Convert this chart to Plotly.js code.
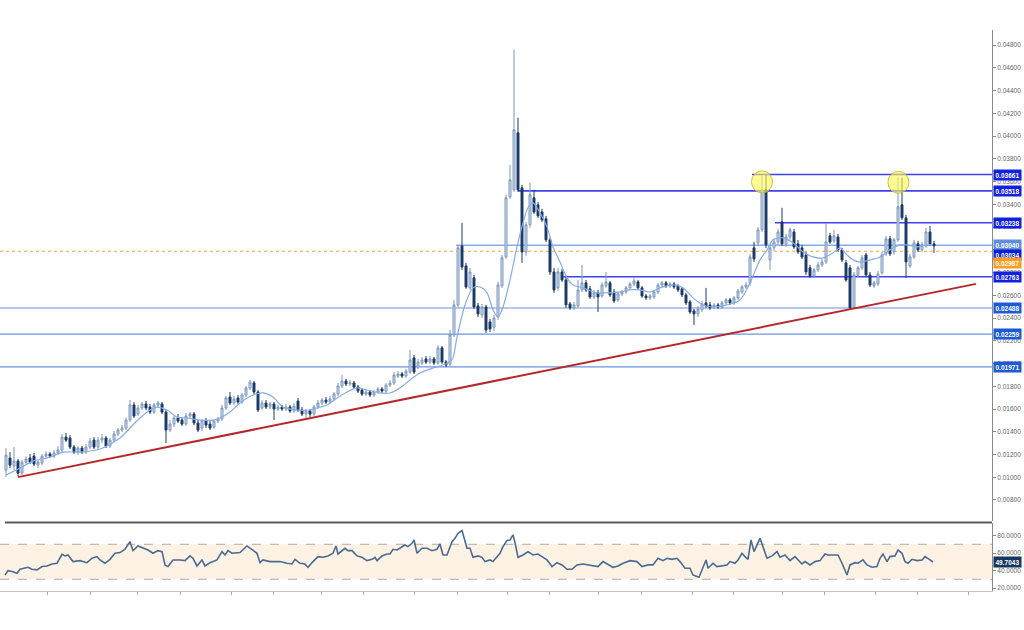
<!DOCTYPE html>
<html><head><meta charset="utf-8">
<script src="https://cdn.plot.ly/plotly-3.0.1.min.js"></script>
<style>html,body{margin:0;padding:0;background:#fff}#chart{width:1024px;height:630px}</style>
</head><body><div id="chart"></div>
<script>
const open = [0.01063,0.01169,0.01098,0.01142,0.01037,0.01133,0.01169,0.01186,0.01107,0.01125,
0.01186,0.01204,0.01186,0.01213,0.01239,0.01353,0.01345,0.01265,0.01221,0.01257,
0.01221,0.01265,0.01327,0.01265,0.01327,0.01345,0.01274,0.01327,0.01380,0.01415,
0.01433,0.01503,0.01635,0.01556,0.01609,0.01644,0.01617,0.01573,0.01635,0.01644,
0.01573,0.01415,0.01468,0.01521,0.01503,0.01468,0.01538,0.01556,0.01477,0.01433,
0.01494,0.01468,0.01441,0.01494,0.01512,0.01609,0.01705,0.01653,0.01697,0.01661,
0.01723,0.01785,0.01829,0.01749,0.01609,0.01653,0.01617,0.01644,0.01600,0.01617,
0.01600,0.01617,0.01582,0.01670,0.01591,0.01556,0.01582,0.01556,0.01617,0.01653,
0.01679,0.01661,0.01688,0.01732,0.01802,0.01846,0.01820,0.01829,0.01793,0.01767,
0.01732,0.01749,0.01723,0.01749,0.01776,0.01758,0.01811,0.01829,0.01890,0.01908,
0.01890,0.01925,0.02049,0.01969,0.02005,0.02040,0.02013,0.02040,0.02005,0.02137,
0.02013,0.01996,0.02251,0.02515,0.03034,0.02858,0.02665,0.02753,0.02506,0.02427,
0.02497,0.02365,0.02321,0.02409,0.02682,0.02937,0.03465,0.03527,0.04029,0.03545,
0.02981,0.03219,0.03457,0.03395,0.03333,0.03272,0.03087,0.02805,0.02665,0.02805,
0.02735,0.02524,0.02489,0.02506,0.02647,0.02709,0.02656,0.02585,0.02621,0.02594,
0.02682,0.02709,0.02629,0.02559,0.02612,0.02629,0.02665,0.02700,0.02717,0.02665,
0.02594,0.02577,0.02585,0.02629,0.02691,0.02709,0.02682,0.02700,0.02682,0.02656,
0.02603,0.02541,0.02462,0.02436,0.02471,0.02533,0.02515,0.02497,0.02515,0.02497,
0.02533,0.02559,0.02533,0.02577,0.02629,0.02673,0.02709,0.03017,0.03061,0.03175,
0.03527,0.02911,0.03017,0.03069,0.03245,0.03052,0.03113,0.03157,0.03052,0.03017,
0.02955,0.02841,0.02770,0.02823,0.02867,0.02893,0.03122,0.03078,0.03113,0.02999,
0.02885,0.02841,0.02497,0.02779,0.02841,0.02955,0.02779,0.02682,0.02700,0.02797,
0.02964,0.03096,0.02981,0.03087,0.03395,0.03281,0.02858,0.02937,0.03052,0.02999,
0.03034,0.03157,0.03052];
const high = [0.01257,0.01221,0.01265,0.01160,0.01151,0.01186,0.01204,0.01213,0.01151,0.01204,
0.01230,0.01221,0.01239,0.01274,0.01380,0.01389,0.01371,0.01283,0.01274,0.01274,
0.01292,0.01345,0.01353,0.01353,0.01380,0.01362,0.01345,0.01406,0.01433,0.01459,
0.01521,0.01679,0.01661,0.01635,0.01661,0.01670,0.01644,0.01653,0.01670,0.01661,
0.01591,0.01503,0.01538,0.01556,0.01529,0.01565,0.01573,0.01573,0.01503,0.01512,
0.01521,0.01494,0.01512,0.01529,0.01635,0.01714,0.01749,0.01714,0.01723,0.01741,
0.01802,0.01855,0.01846,0.01767,0.01679,0.01679,0.01661,0.01661,0.01635,0.01635,
0.01644,0.01635,0.01653,0.01697,0.01617,0.01600,0.01600,0.01635,0.01679,0.01697,
0.01705,0.01714,0.01749,0.01829,0.01899,0.01864,0.01855,0.01846,0.01811,0.01785,
0.01776,0.01767,0.01767,0.01793,0.01793,0.01829,0.01855,0.01925,0.01934,0.01925,
0.01952,0.02119,0.02075,0.02040,0.02057,0.02066,0.02066,0.02057,0.02163,0.02154,
0.02031,0.02295,0.02559,0.03043,0.03237,0.02885,0.02841,0.02779,0.02533,0.02524,
0.02515,0.02392,0.02427,0.02717,0.02955,0.03483,0.03747,0.04759,0.04161,0.03571,
0.03245,0.03589,0.03527,0.03421,0.03360,0.03298,0.03105,0.02841,0.02841,0.02832,
0.02761,0.02541,0.02541,0.02735,0.02867,0.02735,0.02682,0.02647,0.02647,0.02717,
0.02805,0.02726,0.02656,0.02629,0.02647,0.02682,0.02717,0.02753,0.02735,0.02682,
0.02612,0.02612,0.02647,0.02709,0.02726,0.02726,0.02717,0.02717,0.02700,0.02673,
0.02621,0.02559,0.02480,0.02506,0.02550,0.02665,0.02541,0.02533,0.02533,0.02550,
0.02577,0.02577,0.02594,0.02656,0.02691,0.02717,0.02964,0.03069,0.03201,0.03659,
0.03659,0.03043,0.03096,0.03184,0.03369,0.03140,0.03193,0.03184,0.03087,0.03043,
0.02981,0.02867,0.02841,0.02893,0.02920,0.03237,0.03149,0.03175,0.03140,0.03017,
0.02911,0.02867,0.02805,0.02858,0.02955,0.02973,0.02805,0.02726,0.02814,0.02981,
0.03122,0.03122,0.03105,0.03633,0.03633,0.03307,0.02964,0.03087,0.03078,0.03069,
0.03193,0.03210,0.03078];
const low = [0.01001,0.01081,0.01063,0.01010,0.01019,0.01116,0.01116,0.01098,0.01081,0.01107,
0.01169,0.01169,0.01169,0.01195,0.01221,0.01309,0.01248,0.01204,0.01195,0.01204,
0.01204,0.01248,0.01248,0.01248,0.01301,0.01257,0.01257,0.01309,0.01362,0.01397,
0.01415,0.01485,0.01521,0.01538,0.01591,0.01591,0.01556,0.01556,0.01609,0.01556,
0.01301,0.01397,0.01441,0.01477,0.01450,0.01450,0.01521,0.01459,0.01397,0.01406,
0.01433,0.01415,0.01424,0.01477,0.01494,0.01591,0.01635,0.01635,0.01644,0.01644,
0.01705,0.01767,0.01732,0.01573,0.01591,0.01600,0.01600,0.01503,0.01582,0.01582,
0.01582,0.01565,0.01565,0.01573,0.01538,0.01521,0.01529,0.01538,0.01600,0.01635,
0.01644,0.01644,0.01670,0.01714,0.01785,0.01802,0.01802,0.01776,0.01741,0.01714,
0.01714,0.01705,0.01705,0.01732,0.01741,0.01741,0.01793,0.01811,0.01873,0.01873,
0.01873,0.01908,0.01908,0.01952,0.01987,0.01996,0.01996,0.01987,0.01987,0.01996,
0.01969,0.01978,0.02233,0.02497,0.02823,0.02656,0.02647,0.02480,0.02409,0.02401,
0.02269,0.02277,0.02286,0.02383,0.02665,0.02920,0.03448,0.03509,0.03509,0.02885,
0.02946,0.03193,0.03316,0.03281,0.03245,0.03069,0.02779,0.02621,0.02638,0.02717,
0.02489,0.02471,0.02471,0.02489,0.02629,0.02629,0.02568,0.02568,0.02453,0.02577,
0.02665,0.02585,0.02533,0.02541,0.02594,0.02612,0.02647,0.02682,0.02647,0.02577,
0.02559,0.02559,0.02568,0.02612,0.02673,0.02665,0.02665,0.02656,0.02629,0.02585,
0.02515,0.02436,0.02339,0.02409,0.02453,0.02489,0.02471,0.02480,0.02480,0.02480,
0.02515,0.02515,0.02515,0.02559,0.02612,0.02656,0.02682,0.02893,0.03034,0.03157,
0.03017,0.02823,0.02990,0.03043,0.03034,0.03025,0.03087,0.03008,0.02964,0.02920,
0.02779,0.02753,0.02753,0.02805,0.02849,0.02876,0.03052,0.03061,0.02981,0.02893,
0.02717,0.02480,0.02480,0.02761,0.02823,0.02761,0.02673,0.02665,0.02682,0.02779,
0.02946,0.02946,0.02955,0.03069,0.03263,0.02753,0.02841,0.02920,0.02981,0.02981,
0.03017,0.03034,0.02973];
const close = [0.01195,0.01107,0.01142,0.01037,0.01133,0.01160,0.01133,0.01116,0.01133,0.01186,
0.01204,0.01186,0.01213,0.01239,0.01353,0.01327,0.01265,0.01221,0.01257,0.01221,
0.01265,0.01318,0.01265,0.01327,0.01345,0.01274,0.01327,0.01380,0.01415,0.01433,
0.01503,0.01635,0.01538,0.01609,0.01644,0.01609,0.01573,0.01635,0.01653,0.01573,
0.01415,0.01468,0.01521,0.01494,0.01468,0.01538,0.01556,0.01477,0.01415,0.01494,
0.01459,0.01433,0.01494,0.01512,0.01609,0.01697,0.01653,0.01688,0.01661,0.01723,
0.01785,0.01837,0.01749,0.01591,0.01653,0.01617,0.01644,0.01600,0.01617,0.01600,
0.01617,0.01582,0.01626,0.01591,0.01556,0.01582,0.01556,0.01617,0.01653,0.01679,
0.01661,0.01688,0.01732,0.01802,0.01846,0.01820,0.01829,0.01793,0.01758,0.01732,
0.01749,0.01723,0.01749,0.01776,0.01758,0.01811,0.01829,0.01899,0.01908,0.01890,
0.01934,0.02031,0.01925,0.02013,0.02031,0.02013,0.02040,0.02005,0.02137,0.02013,
0.01987,0.02251,0.02515,0.03017,0.02849,0.02673,0.02805,0.02497,0.02436,0.02497,
0.02295,0.02304,0.02401,0.02691,0.02929,0.03457,0.03615,0.04055,0.03527,0.02981,
0.03219,0.03483,0.03333,0.03298,0.03263,0.03087,0.02805,0.02647,0.02805,0.02735,
0.02515,0.02489,0.02515,0.02647,0.02709,0.02647,0.02585,0.02621,0.02585,0.02691,
0.02717,0.02603,0.02550,0.02612,0.02629,0.02665,0.02700,0.02726,0.02665,0.02594,
0.02577,0.02594,0.02629,0.02691,0.02709,0.02682,0.02700,0.02673,0.02647,0.02603,
0.02533,0.02453,0.02436,0.02480,0.02524,0.02506,0.02489,0.02515,0.02497,0.02533,
0.02559,0.02533,0.02577,0.02638,0.02673,0.02691,0.02937,0.02920,0.03175,0.03527,
0.03043,0.03017,0.03069,0.03157,0.03052,0.03113,0.03175,0.03025,0.02981,0.02937,
0.02805,0.02770,0.02823,0.02867,0.02893,0.03069,0.03069,0.03122,0.02999,0.02911,
0.02735,0.02489,0.02779,0.02841,0.02929,0.02779,0.02691,0.02709,0.02788,0.02955,
0.03096,0.02964,0.03087,0.03377,0.03281,0.02893,0.02937,0.03061,0.02999,0.03043,
0.03157,0.03052,0.03034];

const maX = [0,3.5,6.75,11,14.25,18.5,23.5,28.5,31,33.5,36,37.75,40.25,42.75,45.25,48.5,51.75,53.5,56,58.5,61.75,64.25,66.75,69.25,72.75,76,77.75,80.25,82.75,85.25,87.75,90.25,93.5,96,98.5,101,103.5,106.75,109.25,111.5,112.75,114.75,116.75,118.5,120.25,121.75,123,124.25,126,127.75,129.25,130.5,131.75,133.5,135.25,136.75,138.5,140.25,141.75,144.25,147.75,150.25,153.5,156,158.5,161,163.5,166.75,169.25,171.75,174.25,176.75,180.25,183.5,186,188.5,190.25,191.75,194.25,196.75,199.25,201.75,204.25,206.75,208.5,210.25,211.75,213.5,216,218.5,221,223.5,225.25,227.75,230.25,231.75];
const maVal = [0.01019,0.01081,0.01142,0.01177,0.01221,0.01221,0.01248,0.01345,0.01433,0.01521,0.01591,0.01617,0.01591,0.01529,0.01521,0.01503,0.01503,0.01521,0.01573,0.01653,0.01723,0.01741,0.01705,0.01617,0.01591,0.01591,0.01609,0.01635,0.01697,0.01749,0.01785,0.01767,0.01741,0.01741,0.01785,0.01855,0.01917,0.01961,0.01987,0.02031,0.02233,0.02515,0.02665,0.02673,0.02621,0.02471,0.02409,0.02497,0.02735,0.03025,0.03237,0.03369,0.03413,0.03325,0.03201,0.03025,0.02893,0.02753,0.02691,0.02665,0.02621,0.02621,0.02629,0.02647,0.02647,0.02629,0.02665,0.02691,0.02665,0.02577,0.02515,0.02497,0.02515,0.02559,0.02709,0.02911,0.02999,0.03087,0.03105,0.03061,0.02981,0.02937,0.02929,0.02973,0.03017,0.02955,0.02911,0.02893,0.02911,0.02937,0.02999,0.03043,0.03043,0.03025,0.03043,0.03043];

const rsiX = [-0.25,0.5,1.75,2.75,3.5,4.75,5.5,6.5,7.75,9,10.25,11.5,12.75,14,14.75,15.5,16.75,18.5,20.25,21.5,22.75,23.5,24.75,26,27.25,28.5,29.75,31,31.75,33,34.25,35.5,36.75,38,39,39.75,40.5,41.75,43.5,44.75,46,46.75,47.75,49,49.75,51,52.75,54,54.75,55.5,56.5,58.5,60.25,61.75,62.75,63.5,64.25,66,68.5,70.25,71.5,72.25,73.5,74.75,75.5,76.75,78,79.25,80.5,81.75,82.5,83,84,84.75,85.5,86.5,87.75,89,90.25,91.5,92.25,92.75,94,95.25,96,96.75,97.75,99,99.75,100.5,101.5,102,102.75,104,105.25,106.5,107.75,108.5,109.25,110.25,111.5,112.25,113,114,115.25,116,116.75,118,119,119.75,121,121.75,123,123.5,124.25,125.25,126,126.75,127.25,128,129.25,130.5,131.75,133,134,135.25,136.5,137.75,139,140.25,141.5,142.75,144.25,146,148,149.25,150.5,151.75,153,154.25,156,157.75,159,160.5,161.75,163,164.25,165.25,166.5,167.75,168.5,169.75,171,171.75,173.25,174,175,175.5,176.75,177.75,179,180.25,181,182.25,183,184,184.75,185.5,186.25,187,188.5,190.25,191.5,192.75,193.5,194.75,196,197.25,199,199.75,201,202.25,203.5,204.75,205.5,206.75,208,209,210.25,211,212.25,213,214.25,215.25,216.5,217.75,218.5,219.25,220.25,221,222.25,223,224,224.75,225.5,226.5,227.75,229,229.75,231,231.75];
const rsiVal = [34.9,39.9,38.7,36.8,41.4,42.6,43.7,41.4,40.7,44.5,45.2,47.5,48.3,58.6,56.7,57.8,50.2,51.3,49.0,54.0,55.9,52.1,48.3,52.8,59.7,60.5,64.3,73.0,62.7,68.1,65.4,63.5,59.7,62.7,61.6,46.4,44.5,52.1,52.1,51.3,56.7,54.0,45.2,52.1,45.2,49.0,52.1,61.6,57.8,62.7,59.7,60.5,68.1,62.7,59.7,49.0,52.1,50.2,50.2,48.3,47.5,52.8,48.3,47.5,43.7,50.2,55.9,55.1,56.7,59.7,68.1,58.9,62.7,65.4,62.7,62.7,56.7,55.1,51.3,52.8,55.1,51.3,56.7,58.9,58.9,64.3,63.5,66.6,69.2,67.3,71.1,74.9,59.7,65.4,65.4,62.7,64.3,70.4,57.8,57.8,73.0,76.8,82.6,85.6,65.4,65.4,55.1,56.7,55.1,50.2,52.1,50.2,57.8,59.7,67.3,74.2,74.9,80.7,71.9,55.1,57.8,61.6,57.8,58.9,55.9,52.1,44.5,49.0,46.4,41.4,41.4,46.4,47.5,46.4,44.5,50.2,47.1,43.7,45.2,48.3,51.3,50.2,44.5,46.4,46.4,54.0,51.3,54.0,52.8,54.0,50.2,42.6,42.6,34.9,32.3,40.6,52.1,42.6,48.3,44.5,45.2,46.4,50.2,48.3,52.1,59.7,55.9,52.8,74.9,61.6,76.8,54.0,56.7,61.6,55.1,57.8,51.3,55.9,47.5,50.2,46.4,50.2,51.3,58.9,57.8,57.8,57.8,48.3,34.9,46.4,49.0,48.3,52.1,46.4,43.7,44.5,54.0,58.9,50.2,55.9,56.7,63.5,59.7,50.2,48.3,52.8,51.3,52.1,55.9,52.1,49.7043];
const rsiLast = 49.7043;

const levelPrice = [0.03661, 0.03518, 0.03238, 0.03040, 0.02763, 0.02488, 0.02259, 0.01971];
const levelStart = [186.5, 128, 192.25, 112.5, 139.25, -1.5, -1.5, -1.5];
const lastPrice = 0.03034;
const bidPrice = 0.02987;
const trendX = [3, 242.5];
const trendY = [0.01001, 0.02700];
const markX = [189, 223.1];
const markY = [0.03597, 0.03593];
const xTicks = [10.25,21,32.75,43.5,56.25,66.75,78.75,89.25,102,112.75,125.25,135.75,148,158.75,171.5,181.75,194,204.5,217.25,227.75,240.5];

// styles
const levelLine = ['#4141f2','#4141f2','#4141f2','#8eaaee','#4141f2','#6d93df','#6d93df','#6d93df'];
const levelBox  = ['#1020e4','#1020e4','#1020e4','#5f8fdc','#1020e4','#1d5bd6','#1d5bd6','#1d5bd6'];
const levelW    = [1.6,1.6,1.6,1.6,1.6,1.2,1.2,1.2];

const idx = close.map((_, i) => i);
const XR = [-1.5, 246.5];
const FONT = 'Liberation Sans, Arial, sans-serif';

const traces = [
  {type:'candlestick', x: idx, open, high, low, close, xaxis:'x', yaxis:'y',
   increasing:{line:{color:'#7c97be', width:1}, fillcolor:'#d3dfec'},
   decreasing:{line:{color:'#1b3a66', width:1}, fillcolor:'#1b3a66'},
   whiskerwidth:0, hoverinfo:'skip'},
  {type:'scatter', mode:'lines', x: maX, y: maVal, xaxis:'x', yaxis:'y',
   line:{color:'#86acea', width:1.2, shape:'spline', smoothing:0.8}, hoverinfo:'skip'},
  {type:'scatter', mode:'lines', x: trendX, y: trendY, xaxis:'x', yaxis:'y',
   line:{color:'#b5282c', width:2}, hoverinfo:'skip'},
  {type:'scatter', mode:'lines', x: rsiX, y: rsiVal, xaxis:'x2', yaxis:'y2',
   line:{color:'#4a6b93', width:1.6}, hoverinfo:'skip'}
];

const shapes = [];
// RSI band and levels
shapes.push({type:'rect', xref:'paper', yref:'y2', x0:0, x1:1, y0:30, y1:70, fillcolor:'#fdf2e3', line:{width:0}, layer:'below'});
shapes.push({type:'line', xref:'paper', yref:'y2', x0:0, x1:1, y0:70, y1:70, line:{color:'#b0aaa4', width:1, dash:'dash'}, layer:'below'});
shapes.push({type:'line', xref:'paper', yref:'y2', x0:0, x1:1, y0:30, y1:30, line:{color:'#b0aaa4', width:1, dash:'dash'}, layer:'below'});
// separator between panels
shapes.push({type:'line', xref:'paper', yref:'paper', x0:0.005, x1:1, y0:0.1159, y1:0.1159, line:{color:'#5a5a5a', width:2}});
// bid line
shapes.push({type:'line', xref:'x', yref:'y', x0:XR[0], x1:XR[1], y0:bidPrice, y1:bidPrice, line:{color:'#f5a43a', width:1, dash:'dot'}, layer:'below'});
levelPrice.forEach((p, k) => {
  shapes.push({type:'line', xref:'x', yref:'y', x0:levelStart[k], x1:XR[1], y0:p, y1:p,
    line:{color:levelLine[k], width:levelW[k]}, layer:'below'});
});
markX.forEach((mx, k) => {
  shapes.push({type:'circle', xref:'x', yref:'y', xsizemode:'pixel', ysizemode:'pixel',
    xanchor:mx, yanchor:markY[k], x0:-10.5, x1:10.5, y0:-11, y1:11,
    fillcolor:'rgba(255,250,80,0.6)', line:{color:'rgba(190,180,40,0.8)', width:1}, layer:'above'});
});

const annotations = [];
function tag(y, yref, text, bg, yshift) {
  annotations.push({xref:'paper', x:1, xanchor:'left', xshift:1, yref, y, yanchor:'middle', yshift: yshift||0,
    text:'<b>'+text+'</b>', showarrow:false, bgcolor:bg, borderpad:1.5,
    font:{family:FONT, size:6.5, color:'#ffffff'}});
}
levelPrice.forEach((p, k) => tag(p, 'y', p.toFixed(5), levelBox[k], 0));
tag(lastPrice, 'y', lastPrice.toFixed(5), '#0b1ed8', -8.8);
tag(bidPrice, 'y', bidPrice.toFixed(5), '#ff9b1e', -11.8);
tag(rsiLast, 'y2', rsiLast.toFixed(4), '#17365f', 0);

const tickFont = {family:FONT, size:6.5, color:'#666'};
const layout = {
  width:1024, height:630, margin:{l:0, r:32, t:0, b:39},
  paper_bgcolor:'#ffffff', plot_bgcolor:'#ffffff', showlegend:false, hovermode:false,
  xaxis:{domain:[0,1], range:XR, anchor:'y', showticklabels:false, showgrid:false, zeroline:false,
         showline:false, ticks:'', rangeslider:{visible:false}},
  yaxis:{domain:[0.11844,0.94924], range:[0.006154,0.04932], side:'right', anchor:'x',
         tick0:0.008, dtick:0.002, tickformat:'.5f', showgrid:false, zeroline:false,
         showline:true, linecolor:'#8a8a8a', linewidth:1, ticks:'outside', ticklen:3, tickcolor:'#8a8a8a',
         tickfont:tickFont},
  xaxis2:{domain:[0,1], range:XR, anchor:'y2', tickmode:'array', tickvals:xTicks, showticklabels:false,
          ticks:'outside', ticklen:3, tickcolor:'#aaaaaa', showline:true, linecolor:'#c4c4c4', linewidth:1,
          showgrid:false, zeroline:false},
  yaxis2:{domain:[0,0.11506], range:[16.6,94.3], side:'right', anchor:'x2', tickmode:'array',
          tickvals:[20,40,60,80], tickformat:'.4f', showgrid:false, zeroline:false,
          showline:true, linecolor:'#8a8a8a', linewidth:1, ticks:'outside', ticklen:3, tickcolor:'#8a8a8a',
          tickfont:tickFont},
  shapes, annotations
};
Plotly.newPlot('chart', traces, layout, {displayModeBar:false, staticPlot:true});
</script></body></html>
